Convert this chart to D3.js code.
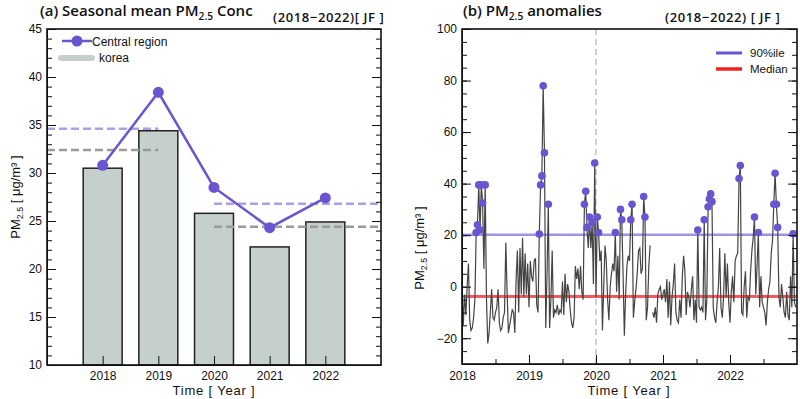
<!DOCTYPE html>
<html>
<head>
<meta charset="utf-8">
<script src="https://cdn.jsdelivr.net/npm/d3@7"></script>
<style>
  body { margin: 0; background: #fff; }
  text { font-family: "Liberation Sans", Arial, sans-serif; fill: #111; }
  .title { font-family: "Open Sans", "Noto Sans", sans-serif; font-weight: 600; }
  .axes path, .axes line { stroke: #111; }
</style>
</head>
<body>
<div id="canvas"></div>
<script>
// ---- DATA ----
const years = [2018, 2019, 2020, 2021, 2022];
const korea = [30.5, 34.4, 25.8, 22.3, 24.9];
const central = [30.8, 38.4, 28.5, 24.3, 27.4];

// period means (dashed lines): 2018-2019 and 2020-2022
const periodStart = [2017, 2020];
const periodEnd = [2019, 2023];
const periodCentral = [34.6, 26.8];
const periodKorea = [32.4, 24.4];

// weekly anomalies, 52 per year
const anom2018 = [2, -15, -3, -11, 0, 9, -13, -17, -16, -12, -5, 21, 24, 39.5, 22, 39.5, 32.5, 7, 39.5, -5,
  -22, -18, -10, -1, -12, -13, -10, -8, -1, -14, -17, -16, -12, -10, 17, -2, -18, -15, -12, -9,
  -10, -18, 3, 14, -10, 15, -3, 19, -4, 13, -3, 9];
const anom2019 = [-8, 10, 4, 2, 10, 11, -7, -10, 20.4, 39.5, 43, 78, 52, -16, 5, 32, -16, -5, 14, -12,
  -9, -10, -7, -11, -9, -10, 2, -11, 5, -6, 1, -2, -9, -14, -16, -12, 8, 3, 7, -1,
  8, -2, -5, 32, 37, 23, 15, 27, 15, 25, 1, 48];
const anom2020 = [-4, 27, 21, 10, 14, -17, 0, 16, 10, -5, -13, 0, 5, 9, 6, 21, -2, 12, -5, 30,
  26, 5, -19, -3, 8, 12, 10, 26, 32, -12, -6, -1, 5, 14, 15, 5, 7, 35, 27, -13,
  -8, 8, 16, null, -10, -12, -8, -14, -3, -1, 0, -5];
const anom2021 = [-3, -1, -6, 3, -12, 2, -15, -4, 1, 9, -10, -13, -14, -5, -12, 4, 12, 6, -11, -2,
  -4, -8, -1, 4, -13, -5, -14, 22, -8, -9, -8, -10, 26, -13, -5, 31, 34, 36, 33, -8,
  -12, -14, -6, 0, 15, -8, -12, -4, 13, -4, 9, -6];
const anom2022 = [-14, -2, 4, -6, 10, 12, 13, 42, 47, -10, -11, 0, 6, -12, -4, -5, 6, 14, 19, 27,
  -3, 8, 21, -8, 4, -6, -8, -10, -15, -6, -1, 2, 13, 18, 32, 44, 32, 23, -4, -8,
  1, -4, -10, -12, -2, -11, -13, 4, -8, 20.5, -6, -8];

const p90 = 20.2;
const median = -3.8;

// ---- CANVAS ----
const width = 800, height = 399;
const svg = d3.select('#canvas').append('svg')
  .attr('width', width).attr('height', height);

function pmLabel(sel, size) {
  sel.append('tspan').text('PM');
  sel.append('tspan').text('2.5').attr('font-size', size * 0.68).attr('dy', size * 0.25);
}

// ============ (a) LEFT PANEL ============
const xL = d3.scaleLinear([2017, 2023], [47, 381]);
const yL = d3.scaleLinear([10, 45], [365, 29]);
const barW = xL(2017.7) - xL(2017);

const a = svg.append('g');

// bars
a.selectAll('rect.bar').data(years).enter().append('rect')
  .attr('class', 'bar')
  .attr('x', d => xL(d) - barW / 2)
  .attr('y', (d, i) => yL(korea[i]))
  .attr('width', barW)
  .attr('height', (d, i) => yL(10) - yL(korea[i]))
  .attr('fill', '#c5d0cd')
  .attr('stroke', '#222')
  .attr('stroke-width', 1.5);

// dashed period means
periodStart.forEach((s, i) => {
  a.append('line')
    .attr('x1', xL(s)).attr('x2', xL(periodEnd[i]))
    .attr('y1', yL(periodCentral[i])).attr('y2', yL(periodCentral[i]))
    .attr('stroke', '#ab9fe8').attr('stroke-width', 2.5).attr('stroke-dasharray', '8,4');
  a.append('line')
    .attr('x1', xL(s)).attr('x2', xL(periodEnd[i]))
    .attr('y1', yL(periodKorea[i])).attr('y2', yL(periodKorea[i]))
    .attr('stroke', '#9a9a9a').attr('stroke-width', 2.5).attr('stroke-dasharray', '8,4');
});

// central region line
a.append('path')
  .datum(years.map((y, i) => [y, central[i]]))
  .attr('d', d3.line().x(d => xL(d[0])).y(d => yL(d[1])))
  .attr('fill', 'none').attr('stroke', '#6a55d0').attr('stroke-width', 2.5);
a.selectAll('circle.c').data(years).enter().append('circle')
  .attr('cx', d => xL(d)).attr('cy', (d, i) => yL(central[i]))
  .attr('r', 5.5).attr('fill', '#6a55d0');

// axes
a.append('g').attr('class', 'axes').attr('transform', 'translate(47,0)')
  .call(d3.axisLeft(yL).tickValues(d3.range(10, 46, 5)).tickSizeInner(-9).tickSizeOuter(0).tickPadding(5))
  .call(g => g.selectAll('text').attr('font-size', 12));
a.append('g').attr('class', 'axes').attr('transform', 'translate(47,0)')
  .call(d3.axisLeft(yL).tickValues(d3.range(10, 46, 1)).tickSize(-5).tickFormat(''))
  .call(g => g.select('.domain').remove());
a.append('g').attr('class', 'axes').attr('transform', 'translate(381,0)')
  .call(d3.axisRight(yL).tickValues(d3.range(10, 46, 5)).tickSize(-9).tickFormat(''))
  .call(g => g.select('.domain').remove());
a.append('g').attr('class', 'axes').attr('transform', 'translate(381,0)')
  .call(d3.axisRight(yL).tickValues(d3.range(10, 46, 1)).tickSize(-5).tickFormat(''))
  .call(g => g.select('.domain').remove());
a.append('g').attr('class', 'axes').attr('transform', 'translate(0,365)')
  .call(d3.axisBottom(xL).tickValues(years).tickFormat(d3.format('d')).tickSizeInner(-9).tickSizeOuter(0).tickPadding(6))
  .call(g => g.selectAll('text').attr('font-size', 12));
a.append('rect').attr('x', 47).attr('y', 29).attr('width', 334).attr('height', 336)
  .attr('fill', 'none').attr('stroke', '#111').attr('stroke-width', 1.6);

// legend
a.append('line').attr('x1', 62).attr('x2', 92).attr('y1', 41).attr('y2', 41)
  .attr('stroke', '#6a55d0').attr('stroke-width', 2.5);
a.append('circle').attr('cx', 77).attr('cy', 41).attr('r', 5.5).attr('fill', '#6a55d0');
a.append('text').attr('x', 92).attr('y', 45.5).attr('font-size', 12).text('Central region');
a.append('line').attr('x1', 61).attr('x2', 92).attr('y1', 58).attr('y2', 58)
  .attr('stroke', '#c5d0cd').attr('stroke-width', 6).attr('stroke-linecap', 'round');
a.append('text').attr('x', 99).attr('y', 62).attr('font-size', 12).text('korea');

// titles and labels
const ta = a.append('text').attr('class', 'title').attr('x', 40).attr('y', 16).attr('font-size', 15);
ta.append('tspan').text('(a) Seasonal mean ');
pmLabel(ta, 15);
ta.append('tspan').text(' Conc').attr('dy', -15 * 0.25);
a.append('text').attr('class', 'title').attr('x', 273).attr('y', 22).attr('font-size', 13)
  .attr('font-weight', 500).attr('letter-spacing', 0.6).text('(2018\u22122022)[ JF ]');

const yla = a.append('text').attr('transform', 'translate(20,197) rotate(-90)')
  .attr('text-anchor', 'middle').attr('font-size', 13);
pmLabel(yla, 13);
yla.append('tspan').text(' [ \u03bcg/m\u00b3 ]').attr('dy', -13 * 0.25);
a.append('text').attr('x', 214).attr('y', 395).attr('text-anchor', 'middle')
  .attr('font-size', 13).attr('letter-spacing', 0.8).text('Time [ Year ]');

// ============ (b) RIGHT PANEL ============
const xR = d3.scaleLinear([2018, 2023], [462, 797]);
const yR = d3.scaleLinear([-30, 100], [364, 29]);
const b = svg.append('g');

const series = [anom2018, anom2019, anom2020, anom2021, anom2022]
  .flatMap((arr, k) => arr.map((v, i) => ({ t: years[k] + i / 52, v: v })));

b.append('line').attr('x1', xR(2020)).attr('x2', xR(2020)).attr('y1', 29).attr('y2', 364)
  .attr('stroke', '#cfcfcf').attr('stroke-width', 2).attr('stroke-dasharray', '6,4');

b.append('line').attr('x1', xR(2018)).attr('x2', xR(2023)).attr('y1', yR(p90)).attr('y2', yR(p90))
  .attr('stroke', '#9f93e6').attr('stroke-width', 2.5);
b.append('line').attr('x1', xR(2018)).attr('x2', xR(2023)).attr('y1', yR(median)).attr('y2', yR(median))
  .attr('stroke', '#f45a5a').attr('stroke-width', 3);

b.append('path').datum(series)
  .attr('d', d3.line().defined(d => d.v !== null).x(d => xR(d.t)).y(d => yR(d.v)))
  .attr('fill', 'none').attr('stroke', '#444').attr('stroke-width', 1.2);

b.selectAll('circle.p').data(series.filter(d => d.v !== null && d.v >= p90)).enter()
  .append('circle')
  .attr('cx', d => xR(d.t)).attr('cy', d => yR(d.v))
  .attr('r', 3.8).attr('fill', '#6a55d0');

// axes
b.append('g').attr('class', 'axes').attr('transform', 'translate(462,0)')
  .call(d3.axisLeft(yR).tickValues(d3.range(-20, 101, 20)).tickSizeInner(-9).tickSizeOuter(0).tickPadding(5))
  .call(g => g.selectAll('text').attr('font-size', 12));
b.append('g').attr('class', 'axes').attr('transform', 'translate(462,0)')
  .call(d3.axisLeft(yR).tickValues(d3.range(-30, 101, 5)).tickSize(-5).tickFormat(''))
  .call(g => g.select('.domain').remove());
b.append('g').attr('class', 'axes').attr('transform', 'translate(797,0)')
  .call(d3.axisRight(yR).tickValues(d3.range(-20, 101, 20)).tickSize(-9).tickFormat(''))
  .call(g => g.select('.domain').remove());
b.append('g').attr('class', 'axes').attr('transform', 'translate(797,0)')
  .call(d3.axisRight(yR).tickValues(d3.range(-30, 101, 5)).tickSize(-5).tickFormat(''))
  .call(g => g.select('.domain').remove());
b.append('g').attr('class', 'axes').attr('transform', 'translate(0,364)')
  .call(d3.axisBottom(xR).tickValues([2018, 2019, 2020, 2021, 2022]).tickFormat(d3.format('d')).tickSizeInner(-9).tickSizeOuter(0).tickPadding(7))
  .call(g => g.selectAll('text').attr('font-size', 12));
b.append('g').attr('class', 'axes').attr('transform', 'translate(0,364)')
  .call(d3.axisBottom(xR).tickValues([2018.5, 2019.5, 2020.5, 2021.5, 2022.5]).tickSize(-5).tickFormat(''))
  .call(g => g.select('.domain').remove());
b.append('rect').attr('x', 462).attr('y', 29).attr('width', 335).attr('height', 335)
  .attr('fill', 'none').attr('stroke', '#111').attr('stroke-width', 1.6);

// legend
b.append('line').attr('x1', 716).attr('x2', 742).attr('y1', 53).attr('y2', 53)
  .attr('stroke', '#6a55d0').attr('stroke-width', 3);
b.append('text').attr('x', 750).attr('y', 57).attr('font-size', 11.5).text('90%ile');
b.append('line').attr('x1', 716).attr('x2', 742).attr('y1', 69).attr('y2', 69)
  .attr('stroke', '#f02020').attr('stroke-width', 3.5);
b.append('text').attr('x', 750).attr('y', 73).attr('font-size', 11.5).text('Median');

// titles and labels
const tb = b.append('text').attr('class', 'title').attr('x', 463).attr('y', 16).attr('font-size', 15);
tb.append('tspan').text('(b) ');
pmLabel(tb, 15);
tb.append('tspan').text(' anomalies').attr('dy', -15 * 0.25);
b.append('text').attr('class', 'title').attr('x', 665).attr('y', 22).attr('font-size', 13)
  .attr('font-weight', 500).attr('letter-spacing', 0.6).text('(2018\u22122022) [ JF ]');

const ylb = b.append('text').attr('transform', 'translate(424,248) rotate(-90)')
  .attr('text-anchor', 'middle').attr('font-size', 13);
pmLabel(ylb, 13);
ylb.append('tspan').text(' [ \u03bcg/m\u00b3 ]').attr('dy', -13 * 0.25);
b.append('text').attr('x', 629).attr('y', 395).attr('text-anchor', 'middle')
  .attr('font-size', 13).attr('letter-spacing', 0.8).text('Time [ Year ]');
</script>
</body>
</html>
